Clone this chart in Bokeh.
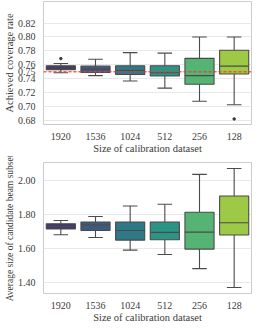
from bokeh.plotting import figure
from bokeh.layouts import column
from bokeh.models import ColumnDataSource, FixedTicker, NumeralTickFormatter, Span, Range1d, FactorRange
from bokeh.transform import dodge
from bokeh.embed import file_html
from bokeh.resources import INLINE

sizes = ["1920", "1536", "1024", "512", "256", "128"]
box_colors = ["#433870", "#3d5a80", "#2f7885", "#2c9484", "#55b474", "#9dc947"]

# Achieved coverage rate
cov_whislo = [0.7484, 0.7443, 0.7367, 0.7263, 0.7075, 0.7025]
cov_q1 = [0.7530, 0.7488, 0.7459, 0.7438, 0.7320, 0.7467]
cov_med = [0.7550, 0.7534, 0.7517, 0.7484, 0.7443, 0.7580]
cov_q3 = [0.7584, 0.7580, 0.7586, 0.7586, 0.7692, 0.7809]
cov_whishi = [0.7617, 0.7680, 0.7775, 0.7767, 0.8000, 0.8000]
cov_out_x = ["1920", "128"]
cov_out_y = [0.7688, 0.6820]
cov_target = 0.75
cov_ticks = [0.68, 0.70, 0.72, 0.74, 0.75, 0.76, 0.78, 0.80, 0.82]

# Average size of candidate beam subset
size_whislo = [1.680, 1.664, 1.590, 1.564, 1.481, 1.370]
size_q1 = [1.714, 1.705, 1.649, 1.651, 1.596, 1.679]
size_med = [1.729, 1.738, 1.705, 1.694, 1.696, 1.751]
size_q3 = [1.745, 1.755, 1.755, 1.755, 1.813, 1.908]
size_whishi = [1.764, 1.788, 1.849, 1.860, 2.035, 2.070]
size_ticks = [1.40, 1.60, 1.80, 2.00]

FONT = "Liberation Serif"
BOXW = 0.84
CAPW = 0.42
EDGE = "#4a4a4a"


def panel(height, yr, ticks, ylabel, lo, q1, med, q3, hi, border_top):
    p = figure(x_range=FactorRange(*sizes), y_range=Range1d(*yr), width=254, height=height,
               output_backend="svg", toolbar_location=None,
               min_border_left=0, min_border_right=3, min_border_top=border_top, min_border_bottom=0)
    src = ColumnDataSource(dict(x=sizes, lo=lo, q1=q1, med=med, q3=q3, hi=hi, c=box_colors))
    p.segment(x0="x", x1="x", y0="lo", y1="q1", source=src, line_color=EDGE, line_width=1.1)
    p.segment(x0="x", x1="x", y0="q3", y1="hi", source=src, line_color=EDGE, line_width=1.1)
    p.segment(x0=dodge("x", -CAPW / 2, range=p.x_range), x1=dodge("x", CAPW / 2, range=p.x_range),
              y0="lo", y1="lo", source=src, line_color=EDGE, line_width=1.1)
    p.segment(x0=dodge("x", -CAPW / 2, range=p.x_range), x1=dodge("x", CAPW / 2, range=p.x_range),
              y0="hi", y1="hi", source=src, line_color=EDGE, line_width=1.1)
    p.vbar(x="x", width=BOXW, bottom="q1", top="q3", source=src, fill_color="c",
           line_color=EDGE, line_width=1.1)
    p.segment(x0=dodge("x", -BOXW / 2, range=p.x_range), x1=dodge("x", BOXW / 2, range=p.x_range),
              y0="med", y1="med", source=src, line_color=EDGE, line_width=1.1)

    p.yaxis.ticker = FixedTicker(ticks=ticks)
    p.yaxis.formatter = NumeralTickFormatter(format="0.00")
    p.xgrid.grid_line_color = None
    p.ygrid.grid_line_color = "#e8e8e8"
    p.ygrid.grid_line_width = 1
    p.outline_line_color = "#cccccc"
    p.outline_line_width = 1
    for ax in (p.xaxis, p.yaxis):
        ax.axis_line_color = None
        ax.major_tick_line_color = None
        ax.minor_tick_line_color = None
        ax.major_label_text_font = FONT
        ax.major_label_text_font_size = "10px"
        ax.major_label_text_color = "#3a3a3a"
        ax.axis_label_text_font = FONT
        ax.axis_label_text_font_size = "10.5px"
        ax.axis_label_text_font_style = "normal"
        ax.axis_label_text_color = "#3a3a3a"
        ax.major_label_standoff = 2
        ax.axis_label_standoff = 0
    p.xaxis.axis_label = "Size of calibration dataset"
    p.yaxis.axis_label = ylabel
    return p


p1 = panel(156, (0.674, 0.851), cov_ticks, "Achieved coverage rate",
           cov_whislo, cov_q1, cov_med, cov_q3, cov_whishi, 1)
p1.add_layout(Span(location=cov_target, dimension="width", line_color="#ff3030",
                   line_alpha=0.75, line_width=1.5, line_dash="3 2"))
p1.scatter(x=cov_out_x, y=cov_out_y, size=2.5, color="#3a3a3a")

p2 = panel(169, (1.335, 2.105), size_ticks, "Average size of candidate beam subset",
           size_whislo, size_q1, size_med, size_q3, size_whishi, 6)
p2.yaxis.axis_label_text_font_size = "9.5px"

layout = column(p1, p2, spacing=0)
open("out.html", "w").write(file_html(layout, INLINE))
